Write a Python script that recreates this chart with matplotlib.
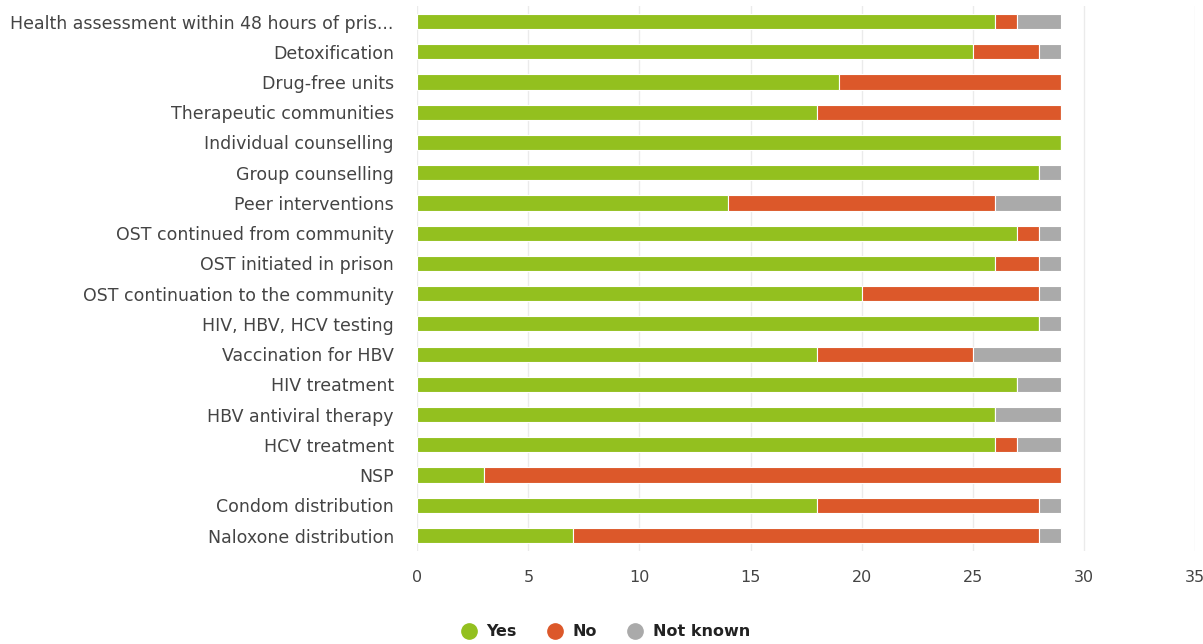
import matplotlib.pyplot as plt
from matplotlib.lines import Line2D

categories = [
    "Health assessment within 48 hours of pris...",
    "Detoxification",
    "Drug-free units",
    "Therapeutic communities",
    "Individual counselling",
    "Group counselling",
    "Peer interventions",
    "OST continued from community",
    "OST initiated in prison",
    "OST continuation to the community",
    "HIV, HBV, HCV testing",
    "Vaccination for HBV",
    "HIV treatment",
    "HBV antiviral therapy",
    "HCV treatment",
    "NSP",
    "Condom distribution",
    "Naloxone distribution",
]
yes = [26, 25, 19, 18, 29, 28, 14, 27, 26, 20, 28, 18, 27, 26, 26, 3, 18, 7]
no = [1, 3, 10, 11, 0, 0, 12, 1, 2, 8, 0, 7, 0, 0, 1, 26, 10, 21]
not_known = [2, 1, 0, 0, 0, 1, 3, 1, 1, 1, 1, 4, 2, 3, 2, 0, 1, 1]
xticks = [0, 5, 10, 15, 20, 25, 30, 35]

c_yes = "#93c01f"
c_no = "#dc582a"
c_nk = "#aaaaaa"
text_c = "#444444"

fig = plt.figure(figsize=(12.03, 6.44), dpi=100)
ax = fig.add_axes([0.347, 0.145, 0.646, 0.845])

y = list(range(len(categories)))
left_no = yes
left_nk = [a + b for a, b in zip(yes, no)]
h = 0.5
ax.barh(y, yes, height=h, color=c_yes, edgecolor="white", linewidth=0.8, zorder=3)
ax.barh(y, no, left=left_no, height=h, color=c_no, edgecolor="white", linewidth=0.8, zorder=3)
ax.barh(y, not_known, left=left_nk, height=h, color=c_nk, edgecolor="white", linewidth=0.8, zorder=3)

ax.set_ylim(len(categories) - 0.5, -0.5)
ax.set_xlim(0, 35)
ax.set_yticks(y)
ax.set_yticklabels(categories, fontsize=12.5, color=text_c)
ax.set_xticks(xticks)
ax.set_xticklabels([str(t) for t in xticks], fontsize=11.5, color=text_c)
ax.tick_params(axis="y", length=0, pad=17)
ax.tick_params(axis="x", length=0, pad=14)
ax.grid(axis="x", color="#ebebeb", linewidth=1, zorder=0)
for s in ax.spines.values():
    s.set_visible(False)

handles = [
    Line2D([], [], marker="o", linestyle="", markersize=11, color=c, label=l)
    for c, l in [(c_yes, "Yes"), (c_no, "No"), (c_nk, "Not known")]
]
leg = fig.legend(handles=handles, loc="lower center", bbox_to_anchor=(0.5, -0.015),
                 ncol=3, frameon=False, fontsize=11.5, handletextpad=0.1, columnspacing=1.4)
for t in leg.get_texts():
    t.set_color("#222222")
    t.set_fontweight("bold")

fig.savefig("out.png", dpi=100)
